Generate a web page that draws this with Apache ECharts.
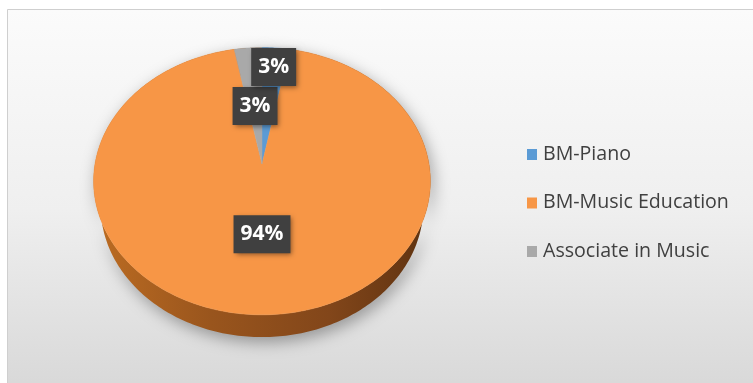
<!DOCTYPE html>
<html>
<head>
<meta charset="utf-8">
<script src="https://cdn.jsdelivr.net/npm/echarts@6/dist/echarts.min.js"></script>
<style>
  html, body { margin: 0; padding: 0; background: #ffffff; }
  #chart { width: 753px; height: 383px; }
</style>
</head>
<body>
<div id="chart"></div>
<script>
// Programme shares (percent)
const categories = ['BM-Piano', 'BM-Music Education', 'Associate in Music'];
const values = [3, 94, 3];
const valueLabels = ['3%', '94%', '3%'];

// Appearance
const sliceColors = ['#5B9BD5', '#F79646', '#A9A9A9'];
const labelRadius = [0.82, 0.5, 0.47];

// Tilted disc projected with a simple perspective camera
const CX = 262, CY = 164, S = 167;
const SIN_T = 0.787, COS_T = 0.617, CAM_D = 4.8, THICK = 0.26;

function proj(x, yv, z) {
  const Y = z * SIN_T - yv * COS_T;
  const depth = yv * SIN_T + z * COS_T;
  const k = CAM_D / (CAM_D - depth);
  return [CX + S * x * k, CY + S * Y * k];
}
function rim(deg, r, yv) {
  const a = deg * Math.PI / 180;
  return proj(Math.sin(a) * r, yv, -Math.cos(a) * r);
}

const total = values.reduce((s, v) => s + v, 0);
function sliceRange(i) {
  let before = 0;
  for (let j = 0; j < i; j++) before += values[j];
  return [before / total * 360, (before + values[i]) / total * 360];
}
function arcPoints(a0, a1, r, yv) {
  const pts = [];
  const n = Math.max(2, Math.ceil(a1 - a0));
  for (let s = 0; s <= n; s++) pts.push(rim(a0 + (a1 - a0) * s / n, r, yv));
  return pts;
}

const pieData = values.map((v, i) => ({ name: categories[i], value: v }));

const chart = echarts.init(document.getElementById('chart'), null, { renderer: 'canvas' });

// Legend built from the category list
const legendGraphics = categories.map((name, i) => ({
  type: 'group',
  left: 527,
  top: 144 + i * 48.5,
  children: [
    { type: 'rect', shape: { x: 0, y: 2, width: 10, height: 11 }, style: { fill: sliceColors[i] } },
    { type: 'text', x: 16, y: 7, style: { text: name, fill: '#404040', font: '19.6px "Open Sans"', verticalAlign: 'middle' } }
  ]
}));

chart.setOption({
  animation: false,
  graphic: [
    {
      type: 'rect', z: -10,
      shape: { x: 7.5, y: 9.5, width: 780, height: 400 },
      style: {
        fill: { type: 'linear', x: 0, y: 0, x2: 0, y2: 1,
          colorStops: [{ offset: 0, color: '#fbfbfb' }, { offset: 0.5, color: '#efefef' }, { offset: 0.93, color: '#d9d9d9' }, { offset: 1, color: '#d9d9d9' }] },
        stroke: '#cfcfcf', lineWidth: 1
      }
    }
  ].concat(legendGraphics),
  series: [
    {
      // side wall of the disc
      type: 'custom', coordinateSystem: 'none', z: 1, silent: true,
      data: pieData,
      renderItem: function (params, api) {
        const i = params.dataIndex;
        const [a0, a1] = sliceRange(i);
        const top = arcPoints(a0, a1, 1, 0);
        const bottom = arcPoints(a0, a1, 1, -THICK).reverse();
        return {
          type: 'polygon',
          shape: { points: top.concat(bottom) },
          style: {
            fill: { type: 'linear', x: 0, y: 0, x2: 1, y2: 0,
              colorStops: [
                { offset: 0, color: '#BC6C22' },
                { offset: 0.35, color: '#99551D' },
                { offset: 0.7, color: '#82461A' },
                { offset: 1, color: '#5E3210' }
              ] },
            shadowBlur: 16, shadowColor: 'rgba(0,0,0,0.35)', shadowOffsetX: 3, shadowOffsetY: 5
          }
        };
      }
    },
    {
      // top faces and value labels
      type: 'custom', coordinateSystem: 'none', z: 2, silent: true,
      data: pieData,
      renderItem: function (params, api) {
        const i = params.dataIndex;
        const [a0, a1] = sliceRange(i);
        const pts = [proj(0, 0, 0)].concat(arcPoints(a0, a1, 1, 0));
        const mid = (a0 + a1) / 2;
        const lp = rim(mid, labelRadius[i], 0);
        return {
          type: 'group',
          children: [
            { type: 'polygon', shape: { points: pts },
              style: { fill: sliceColors[i], stroke: sliceColors[i], lineWidth: 0.5 } },
            { type: 'text', x: lp[0], y: lp[1], z2: 100 + (i === 0 ? 10 : 0),
              style: {
                text: valueLabels[i], fill: '#ffffff', font: 'bold 21px "Open Sans"',
                align: 'center', verticalAlign: 'middle',
                backgroundColor: '#404040', padding: [9, 7, 8, 7],
                shadowBlur: 5, shadowColor: 'rgba(0,0,0,0.45)', shadowOffsetX: 2, shadowOffsetY: 2
              } }
          ]
        };
      }
    }
  ]
});
</script>
</body>
</html>
